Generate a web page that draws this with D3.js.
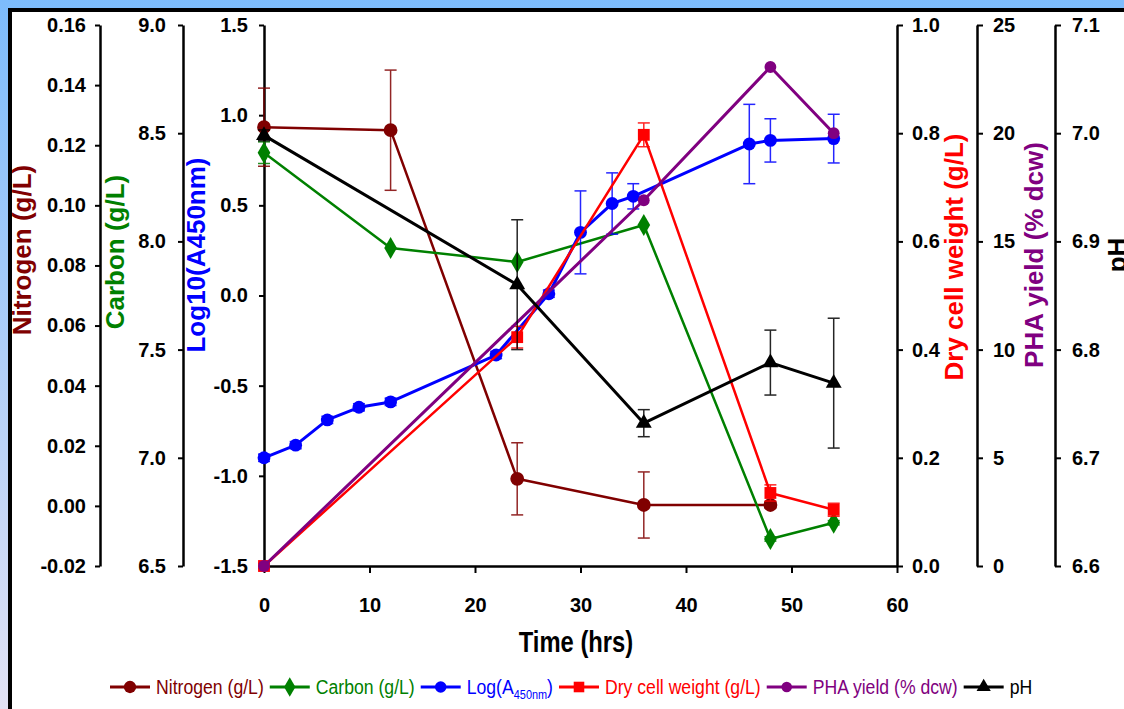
<!DOCTYPE html>
<html>
<head>
<meta charset="utf-8">
<script src="https://cdn.jsdelivr.net/npm/d3@7"></script>
<style>
  body { margin: 0; }
  svg { display: block; }
  .tick text { font-family: "Liberation Sans", Arial, sans-serif; font-weight: bold; font-size: 20px; fill: #000; }
  .axis path, .axis line { stroke: #000; }
</style>
</head>
<body>
<svg id="chart" width="1124" height="709"></svg>
<script>
// data ----------------------------------------
var nitroTime = [0, 12, 24, 36, 48];
var nitroVal = [0.126, 0.125, 0.009, 0.0003, 0.0003];
var nitroErr = [0.013, 0.020, 0.012, 0.011, 0.001];

var carbonTime = [0, 12, 24, 36, 48, 54];
var carbonVal = [8.41, 7.97, 7.905, 8.076, 6.625, 6.70];
var carbonErr = [0.05, 0, 0, 0, 0.01, 0.01];

var odTime = [0, 3, 6, 9, 12, 22, 27, 30, 33, 35, 46, 48, 54];
var odVal = [-0.90, -0.83, -0.69, -0.62, -0.59, -0.33, 0.01, 0.35, 0.51, 0.55, 0.84, 0.86, 0.87];
var odErr = [0.02, 0.02, 0.02, 0.02, 0.02, 0.02, 0.02, 0.23, 0.17, 0.07, 0.22, 0.12, 0.135];

var dcwTime = [0, 24, 36, 48, 54];
var dcwVal = [0.0, 0.423, 0.797, 0.135, 0.104];
var dcwErr = [0.005, 0.02, 0.022, 0.015, 0.012];

var phaTime = [0, 36, 48, 54];
var phaVal = [0, 16.9, 23.06, 20.0];

var phTime = [0, 24, 36, 48, 54];
var phVal = [6.998, 6.86, 6.732, 6.788, 6.769];
var phErr = [0.005, 0.06, 0.0125, 0.03, 0.06];

// tick labels
var timeTicks = [0, 10, 20, 30, 40, 50, 60];
var nitroTicks = [-0.02, 0, 0.02, 0.04, 0.06, 0.08, 0.10, 0.12, 0.14, 0.16];
var carbonTicks = [6.5, 7.0, 7.5, 8.0, 8.5, 9.0];
var odTicks = [-1.5, -1.0, -0.5, 0.0, 0.5, 1.0, 1.5];
var dcwTicks = [0, 0.2, 0.4, 0.6, 0.8, 1.0];
var phaTicks = [0, 5, 10, 15, 20, 25];
var phTicks = [6.6, 6.7, 6.8, 6.9, 7.0, 7.1];

var svg = d3.select("#chart");

// Background + frame ----------------------------------------
var defs = svg.append("defs");
var grad = defs.append("linearGradient").attr("id", "bg").attr("x1", 0).attr("y1", 0).attr("x2", 0).attr("y2", 1);
grad.append("stop").attr("offset", "0%").attr("stop-color", "#7dbcfc");
grad.append("stop").attr("offset", "100%").attr("stop-color", "#e2e2f4");
svg.append("rect").attr("width", 1124).attr("height", 709).attr("fill", "url(#bg)");
svg.append("rect").attr("x", 10).attr("y", 10).attr("width", 1130).attr("height", 720)
  .attr("fill", "#fff").attr("stroke", "#000").attr("stroke-width", 4);

// Scales ----------------------------------------
var plotTop = 25, plotBottom = 566;
var x = d3.scaleLinear().domain([0, 60]).range([264, 897]);
var yN = d3.scaleLinear().domain([-0.02, 0.16]).range([plotBottom, plotTop]);
var yC = d3.scaleLinear().domain([6.5, 9.0]).range([plotBottom, plotTop]);
var yL = d3.scaleLinear().domain([-1.5, 1.5]).range([plotBottom, plotTop]);
var yD = d3.scaleLinear().domain([0, 1.0]).range([plotBottom, plotTop]);
var yP = d3.scaleLinear().domain([0, 25]).range([plotBottom, plotTop]);
var yH = d3.scaleLinear().domain([6.6, 7.1]).range([plotBottom, plotTop]);

function fmt(spec) {
  return function(d) { return d3.format(spec)(d).replace("\u2212", "-"); };
}

// Axes ----------------------------------------
function drawAxis(axis, tx, ty) {
  var g = svg.append("g").attr("class", "axis")
    .attr("transform", "translate(" + tx + "," + ty + ")")
    .call(axis);
  g.select(".domain").attr("stroke-width", 2.5);
  g.selectAll(".tick line").attr("stroke-width", 2);
  return g;
}

drawAxis(d3.axisLeft(yN).tickValues(nitroTicks).tickFormat(fmt(".2f")).tickSize(5).tickSizeOuter(0).tickPadding(9), 100, 0);
drawAxis(d3.axisLeft(yC).tickValues(carbonTicks).tickFormat(fmt(".1f")).tickSize(5).tickSizeOuter(0).tickPadding(12), 183, 0);
drawAxis(d3.axisLeft(yL).tickValues(odTicks).tickFormat(fmt(".1f")).tickSize(5).tickSizeOuter(0).tickPadding(11), 264, 0);
drawAxis(d3.axisRight(yD).tickValues(dcwTicks).tickFormat(fmt(".1f")).tickSize(6).tickSizeOuter(0).tickPadding(9), 897, 0);
drawAxis(d3.axisRight(yP).tickValues(phaTicks).tickFormat(fmt("d")).tickSize(6).tickSizeOuter(0).tickPadding(10), 977, 0);
drawAxis(d3.axisRight(yH).tickValues(phTicks).tickFormat(fmt(".1f")).tickSize(6).tickSizeOuter(0).tickPadding(11), 1055, 0);
drawAxis(d3.axisBottom(x).tickValues(timeTicks).tickFormat(fmt("d")).tickSize(7).tickSizeOuter(0).tickPadding(25), 0, plotBottom);

// Axis titles ----------------------------------------
function vTitle(txt, cx, cy, color) {
  svg.append("text")
    .attr("transform", "translate(" + cx + "," + cy + ") rotate(-90)")
    .attr("text-anchor", "middle")
    .style("font-family", "Liberation Sans, Arial, sans-serif")
    .style("font-weight", "bold")
    .style("font-size", "26px")
    .attr("fill", color)
    .text(txt);
}
vTitle("Nitrogen (g/L)", 31, 250, "#800000");
vTitle("Carbon (g/L)", 124, 252, "#008000");
vTitle("Log10(A450nm)", 205, 255, "#0000ff");
vTitle("Dry cell weight (g/L)", 963, 257, "#ff0000");
vTitle("PHA yield (% dcw)", 1043, 255, "#800080");
vTitle("pH", 1126, 255, "#000");

// condensed look via horizontal squeeze
svg.append("text")
  .attr("transform", "translate(576,652) scale(0.82,1)")
  .attr("text-anchor", "middle")
  .style("font-family", "Liberation Sans, Arial, sans-serif")
  .style("font-weight", "bold")
  .style("font-size", "29px")
  .text("Time (hrs)");

// Series ----------------------------------------
var series = [
  { name: "Nitrogen (g/L)", t: nitroTime, v: nitroVal, e: nitroErr, y: yN, color: "#800000", sym: d3.symbolCircle, size: 150, w: 2.5 },
  { name: "Carbon (g/L)", t: carbonTime, v: carbonVal, e: carbonErr, y: yC, color: "#008000", sym: d3.symbolDiamond, size: 140, w: 2.5 },
  { name: "Log", t: odTime, v: odVal, e: odErr, y: yL, color: "#0000ff", sym: d3.symbolCircle, size: 130, w: 3 },
  { name: "Dry cell weight (g/L)", t: dcwTime, v: dcwVal, e: dcwErr, y: yD, color: "#ff0000", sym: d3.symbolSquare, size: 140, w: 2.5 },
  { name: "PHA yield (% dcw)", t: phaTime, v: phaVal, e: null, y: yP, color: "#800080", sym: d3.symbolCircle, size: 110, w: 3 },
  { name: "pH", t: phTime, v: phVal, e: phErr, y: yH, color: "#000000", sym: d3.symbolTriangle, size: 110, w: 3 }
];

series.forEach(function(s) {
  var pts = s.t.map(function(t, i) { return { t: t, v: s.v[i], e: s.e ? s.e[i] : 0 }; });
  var g = svg.append("g");

  g.append("path")
    .datum(pts)
    .attr("fill", "none")
    .attr("stroke", s.color)
    .attr("stroke-width", s.w)
    .attr("stroke-linejoin", "round")
    .attr("d", d3.line().x(function(d) { return x(d.t); }).y(function(d) { return s.y(d.v); }));

  // error bars
  var eb = g.selectAll(".err").data(pts.filter(function(d) { return d.e > 0; }))
    .enter().append("g").attr("class", "err")
    .attr("stroke", s.color).attr("stroke-width", 1.5).attr("opacity", 0.85);
  eb.append("line")
    .attr("x1", function(d) { return x(d.t); }).attr("x2", function(d) { return x(d.t); })
    .attr("y1", function(d) { return s.y(d.v + d.e); }).attr("y2", function(d) { return s.y(d.v - d.e); });
  eb.append("line")
    .attr("x1", function(d) { return x(d.t) - 6; }).attr("x2", function(d) { return x(d.t) + 6; })
    .attr("y1", function(d) { return s.y(d.v + d.e); }).attr("y2", function(d) { return s.y(d.v + d.e); });
  eb.append("line")
    .attr("x1", function(d) { return x(d.t) - 6; }).attr("x2", function(d) { return x(d.t) + 6; })
    .attr("y1", function(d) { return s.y(d.v - d.e); }).attr("y2", function(d) { return s.y(d.v - d.e); });

  // markers
  g.selectAll(".mk").data(pts).enter().append("path")
    .attr("class", "mk")
    .attr("transform", function(d) { return "translate(" + x(d.t) + "," + s.y(d.v) + ")"; })
    .attr("d", d3.symbol().type(s.sym).size(s.size))
    .attr("fill", s.color);
});

// Legend ----------------------------------------
var lx = 110, ly = 687, squeeze = 0.84;
series.forEach(function(s) {
  var g = svg.append("g");
  g.append("line").attr("x1", lx).attr("x2", lx + 40).attr("y1", ly).attr("y2", ly)
    .attr("stroke", s.color).attr("stroke-width", 3);
  g.append("path").attr("transform", "translate(" + (lx + 20) + "," + ly + ")")
    .attr("d", d3.symbol().type(s.sym).size(s.size * 0.8)).attr("fill", s.color);
  var t = g.append("text")
    .attr("transform", "translate(" + (lx + 46) + "," + (ly + 7) + ") scale(" + squeeze + ",1)")
    .style("font-family", "Liberation Sans, Arial, sans-serif")
    .style("font-size", "21px")
    .attr("fill", s.color);
  if (s.name === "Log") {
    t.append("tspan").text("Log(A");
    t.append("tspan").attr("dy", 5).style("font-size", "13px").text("450nm");
    t.append("tspan").attr("dy", -5).text(")");
  } else {
    t.text(s.name);
  }
  lx = lx + 46 + t.node().getComputedTextLength() * squeeze + 6;
});
</script>
</body>
</html>
